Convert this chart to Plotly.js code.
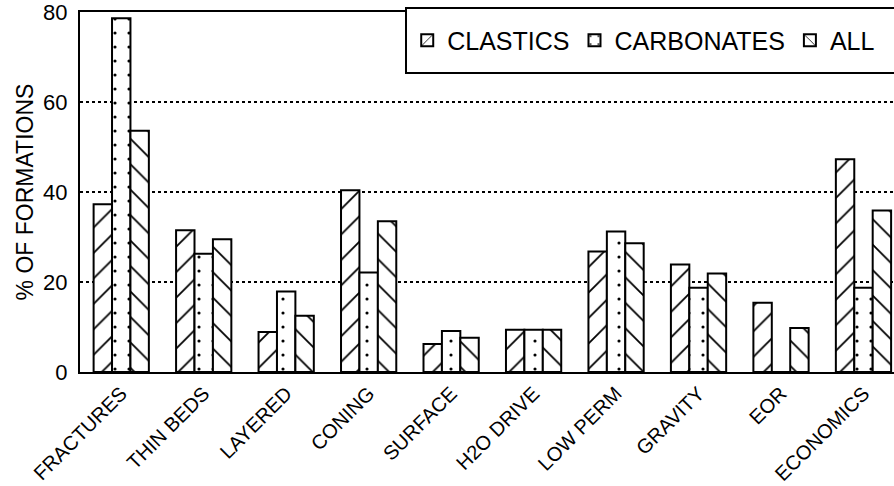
<!DOCTYPE html>
<html>
<head>
<meta charset="utf-8">
<script src="https://cdn.plot.ly/plotly-3.0.1.min.js"></script>
<style>html,body{margin:0;padding:0;background:#fff;}#chart{width:894px;height:486px;}</style>
</head>
<body>
<div id="chart"></div>
<script>
const categories = ["FRACTURES", "THIN BEDS", "LAYERED", "CONING", "SURFACE", "H2O DRIVE", "LOW PERM", "GRAVITY", "EOR", "ECONOMICS"];
const clastics = [37.3, 31.5, 8.9, 40.4, 6.2, 9.4, 26.8, 23.9, 15.4, 47.3];
const carbonates = [78.6, 26.3, 17.9, 22.1, 9.1, 9.4, 31.2, 18.7, 0, 18.7];
const allFormations = [53.6, 29.5, 12.5, 33.5, 7.6, 9.4, 28.6, 21.9, 9.8, 35.9];
const yTicks = [0, 20, 40, 60, 80];

const FONT = "Liberation Sans, Arial, sans-serif";
function barTrace(name, values, shape, size, solidity) {
  return {
    type: "bar", name: name, x: categories, y: values,
    marker: {
      color: "white",
      line: {color: "black", width: 2},
      pattern: {shape: shape, fgcolor: "black", bgcolor: "white", size: size, solidity: solidity}
    }
  };
}
const data = [
  barTrace("CLASTICS", clastics, "/", 18, 0.1),
  barTrace("CARBONATES", carbonates, ".", 14, 0.04),
  barTrace("ALL", allFormations, "\\", 18, 0.1)
];
const layout = {
  width: 894, height: 486,
  margin: {l: 80, r: 0, t: 12, b: 114},
  paper_bgcolor: "white", plot_bgcolor: "white",
  font: {family: FONT, color: "black"},
  barmode: "group", bargap: 0.33, bargroupgap: 0,
  showlegend: true,
  legend: {
    orientation: "h", x: 0.402, xanchor: "left", y: 0.921, yanchor: "middle",
    bgcolor: "rgba(0,0,0,0)", borderwidth: 0,
    font: {size: 25, family: FONT}, itemwidth: 30, tracegroupgap: 0
  },
  shapes: [{
    type: "rect", xref: "paper", yref: "paper",
    x0: 0.4005, x1: 1.05, y0: 0.8306, y1: 1.011,
    line: {color: "black", width: 2}, fillcolor: "white", layer: "above"
  }],
  xaxis: {
    type: "category", range: [-0.5, 9.37],
    showline: true, linecolor: "black", linewidth: 2, mirror: true,
    showgrid: false, ticks: "", tickangle: -45,
    tickfont: {size: 20, family: FONT}
  },
  yaxis: {
    range: [0, 80], tickvals: yTicks, ticklabeloverflow: "allow",
    showline: true, linecolor: "black", linewidth: 2, mirror: false,
    showgrid: true, gridcolor: "black", gridwidth: 2, griddash: "dot",
    zeroline: false, ticks: "outside", ticklen: 6, tickcolor: "white",
    tickfont: {size: 22, family: FONT},
    title: {text: "% OF FORMATIONS", font: {size: 23, family: FONT}, standoff: 3}
  }
};
Plotly.newPlot("chart", data, layout, {displayModeBar: false, staticPlot: true});
</script>
</body>
</html>
